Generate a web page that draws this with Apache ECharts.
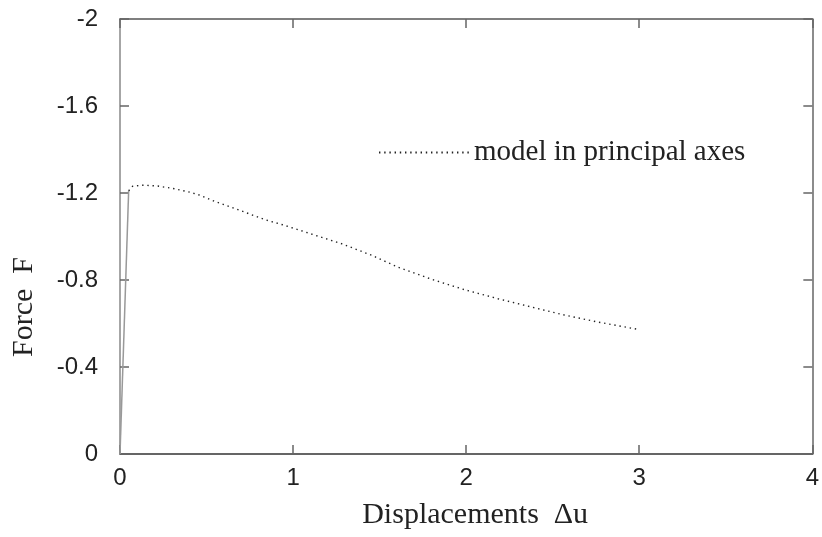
<!DOCTYPE html>
<html>
<head>
<meta charset="utf-8">
<script src="https://cdn.jsdelivr.net/npm/echarts@6/dist/echarts.min.js"></script>
<style>
  html, body { margin: 0; padding: 0; background: #fff; }
  #main { width: 822px; height: 537px; }
</style>
</head>
<body>
<div id="main"></div>
<script>
// elastic branch (solid) and softening branch (dotted)
var elasticX = [0, 0.05];
var elasticF = [0, -1.21];

var dispX = [0.05, 0.073, 0.134, 0.218, 0.305, 0.402, 0.46, 0.546, 0.649, 0.747, 0.843, 0.939, 1.034,
	1.15, 1.283, 1.456, 1.609, 1.801, 1.992, 2.184, 2.375, 2.567, 2.759, 3.0];
var forceF = [-1.21, -1.231, -1.236, -1.232, -1.221, -1.204, -1.19, -1.162, -1.133, -1.104, -1.076, -1.054, -1.03,
	-1.0, -0.966, -0.913, -0.858, -0.803, -0.755, -0.714, -0.676, -0.639, -0.607, -0.572];

var xTicks = [0, 1, 2, 3, 4];
var yTicks = [0, -0.4, -0.8, -1.2, -1.6, -2];
var legendName = 'model in principal axes';

function pairs(xs, ys) {
	var out = [];
	for (var i = 0; i < xs.length; i++) {
		out.push([xs[i], ys[i]]);
	}
	return out;
}

var chart = echarts.init(document.getElementById('main'));

var serif = '"Liberation Serif", "DejaVu Serif", serif';
var sans = '"Liberation Sans", Arial, sans-serif';

var tickStyle = {
	show: true,
	inside: true,
	length: 9,
	lineStyle: { color: '#666', width: 1.5 }
};

var option = {
	backgroundColor: '#fff',
	animation: false,
	grid: {
		left: 120,
		right: 5,
		top: 19,
		bottom: 83
	},
	legend: {
		data: [legendName],
		left: 373,
		top: 133,
		itemWidth: 90,
		itemHeight: 14,
		itemStyle: { color: 'transparent', borderColor: 'transparent', borderWidth: 0 },
		textStyle: {
			fontFamily: serif,
			fontSize: 29,
			color: '#222'
		}
	},
	xAxis: [{
		type: 'value',
		min: xTicks[0],
		max: xTicks[xTicks.length - 1],
		interval: 1,
		name: 'Displacements  \u0394u',
		nameLocation: 'middle',
		nameGap: 46,
		nameTextStyle: { fontFamily: serif, fontSize: 30, color: '#222', padding: [0, 0, 0, 18] },
		axisLine: { show: true, onZero: false, lineStyle: { color: '#333', width: 1.5 } },
		axisTick: tickStyle,
		axisLabel: { fontFamily: sans, fontSize: 24, color: '#222', margin: 12 },
		splitLine: { show: false }
	}, {
		type: 'value',
		position: 'top',
		min: xTicks[0],
		max: xTicks[xTicks.length - 1],
		interval: 1,
		axisLine: { show: true, onZero: false, lineStyle: { color: '#555', width: 1.5 } },
		axisTick: tickStyle,
		axisLabel: { show: false },
		splitLine: { show: false }
	}],
	yAxis: [{
		type: 'value',
		inverse: true,
		min: yTicks[yTicks.length - 1],
		max: yTicks[0],
		interval: 0.4,
		axisLine: { show: true, onZero: false, lineStyle: { color: '#888', width: 1.5 } },
		axisTick: tickStyle,
		axisLabel: { fontFamily: sans, fontSize: 24, color: '#222', margin: 22 },
		splitLine: { show: false }
	}, {
		type: 'value',
		position: 'right',
		inverse: true,
		min: yTicks[yTicks.length - 1],
		max: yTicks[0],
		interval: 0.4,
		axisLine: { show: true, onZero: false, lineStyle: { color: '#666', width: 1.5 } },
		axisTick: tickStyle,
		axisLabel: { show: false },
		splitLine: { show: false }
	}],
	graphic: [{
		type: 'text',
		left: 9,
		top: 257,
		rotation: Math.PI / 2,
		style: {
			text: 'Force  F',
			font: '30px ' + serif,
			fill: '#222'
		}
	}],
	series: [{
		name: 'elastic',
		type: 'line',
		data: pairs(elasticX, elasticF),
		showSymbol: false,
		symbol: 'none',
		lineStyle: { color: '#999', width: 1.5 }
	}, {
		name: legendName,
		type: 'line',
		data: pairs(dispX, forceF),
		showSymbol: false,
		symbol: 'none',
		itemStyle: { color: '#222' },
		lineStyle: { color: '#222', width: 1.4, type: [1.4, 3.8] }
	}]
};

chart.setOption(option);
</script>
</body>
</html>
